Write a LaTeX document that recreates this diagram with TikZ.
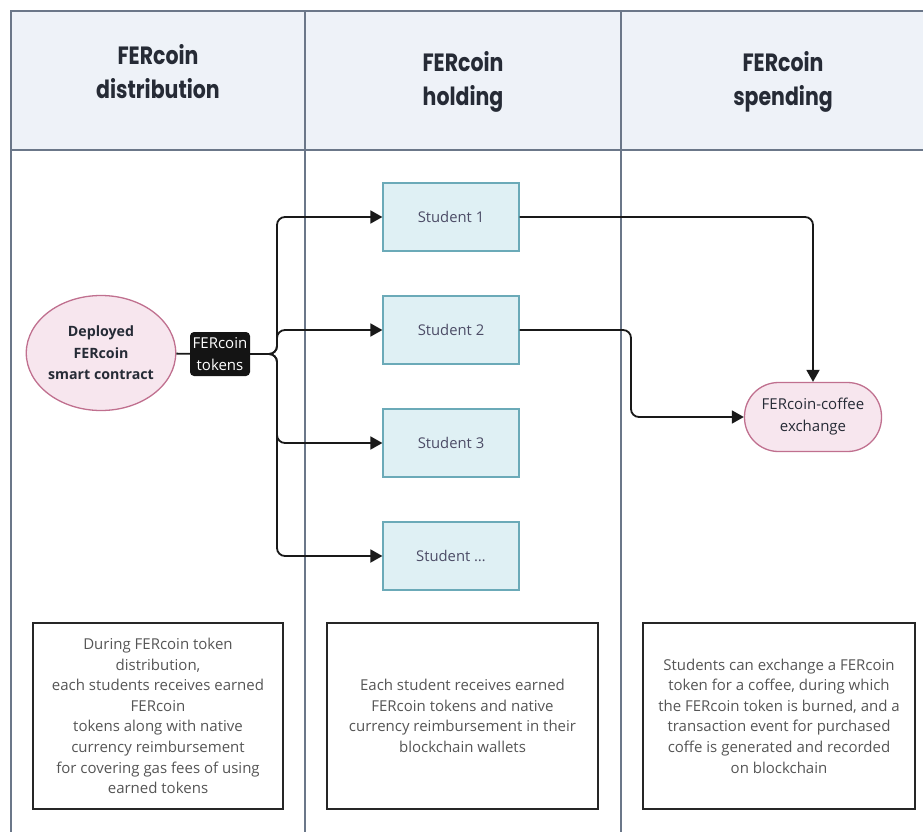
\documentclass[tikz,border=0pt]{standalone}
\usepackage{fontspec}
\setmainfont{Open Sans}
\newfontfamily\headfont{Poppins}[FakeStretch=0.82]
\usetikzlibrary{shapes.geometric,arrows.meta}
\definecolor{lanefill}{HTML}{EEF2F8}
\definecolor{laneline}{HTML}{6B7789}
\definecolor{headtext}{HTML}{262B36}
\definecolor{bodytext}{HTML}{555555}
\definecolor{pinkfill}{HTML}{F7E6EE}
\definecolor{pinkline}{HTML}{C0708F}
\definecolor{bluefill}{HTML}{DFF0F4}
\definecolor{blueline}{HTML}{6BAAB8}
\tikzset{
  lane/.style={draw=laneline, line width=1.4pt},
  headtitle/.style={font=\headfont\bfseries\fontsize{25}{34}\selectfont, text=headtext, align=center},
  student/.style={draw=blueline, fill=bluefill, line width=1.2pt, minimum width=136pt, minimum height=68pt,
    font=\fontsize{14.8}{20}\selectfont, text=bodytext!90!blue},
  pinknode/.style={draw=pinkline, fill=pinkfill, line width=1.3pt, align=center, text=headtext},
  tag/.style={fill=black!92, rounded corners=4pt, text=white, align=center, minimum width=60pt, minimum height=44pt,
    inner sep=0pt, font=\fontsize{15}{22}\selectfont},
  note/.style={draw=black!85, line width=1.4pt, align=center, text=bodytext, inner sep=2pt,
    font=\fontsize{15}{20.6}\selectfont},
  flow/.style={draw=black!90, line width=1.8pt, rounded corners=8pt, -{Triangle[length=12pt,width=13pt]}},
  plain/.style={draw=black!90, line width=1.8pt, rounded corners=8pt},
}
\begin{document}
\begin{tikzpicture}[x=1pt,y=-1pt]
\useasboundingbox (0,0) rectangle (923,832);
% swimlane frame
\fill[lanefill] (11,11) rectangle (923,150);
\draw[lane] (11,832) -- (11,11) -- (923,11);
\draw[lane] (11,150) -- (923,150);
\draw[lane] (305,11) -- (305,832);
\draw[lane] (621,11) -- (621,832);
% lane titles
\node[headtitle] (h1) at (158,72) {FERcoin\\distribution};
\node[headtitle] (h2) at (463,82) {FERcoin\\holding};
\node[headtitle] (h3) at (783,82) {FERcoin\\spending};
% flow nodes
\node[pinknode, ellipse, minimum width=133pt, minimum height=115pt, inner sep=0pt,
  font=\fontsize{14.2}{21.5}\selectfont] (dep) at (101,353)
  {\textbf{Deployed}\\\textbf{FERcoin}\\\textbf{smart contract}};
\node[tag] (tok) at (220,354) {FERcoin\\tokens};
\node[student] (s1) at (451,217) {Student 1};
\node[student] (s2) at (451,330) {Student 2};
\node[student] (s3) at (451,443) {Student 3};
\node[student] (s4) at (451,556) {Student \dots};
\node[pinknode, rounded corners=34pt, minimum width=137pt, minimum height=69pt, inner sep=2pt,
  font=\fontsize{15}{22}\selectfont] (ex) at (813,417)
  {FERcoin-coffee\\exchange};
% branch and routing points
\coordinate (br) at (277,354);
\coordinate (j2) at (631,330);
% connectors
\draw[plain] (dep) -- (tok);
\draw[flow] (tok.east) -- (br) |- (s1.west);
\draw[flow] (tok.east) -- (br) |- (s2.west);
\draw[flow] (tok.east) -- (br) |- (s3.west);
\draw[flow] (tok.east) -- (br) |- (s4.west);
\draw[flow] (s1.east) -| (ex.north);
\draw[flow] (s2.east) -- (j2) |- (ex.west);
% lane descriptions
\node[note, minimum width=250pt, minimum height=186pt] (n1) at (158,716)
  {During FERcoin token\\distribution,\\each students receives earned\\FERcoin\\tokens along with native\\currency reimbursement\\for covering gas fees of using\\earned tokens};
\node[note, minimum width=271pt, minimum height=186pt] (n2) at (462.5,716)
  {Each student receives earned\\FERcoin tokens and native\\currency reimbursement in their\\blockchain wallets};
\node[note, minimum width=272pt, minimum height=186pt] (n3) at (779,716)
  {Students can exchange a FERcoin\\token for a coffee, during which\\the FERcoin token is burned, and a\\transaction event for purchased\\coffe is generated and recorded\\on blockchain};
\end{tikzpicture}
\end{document}
